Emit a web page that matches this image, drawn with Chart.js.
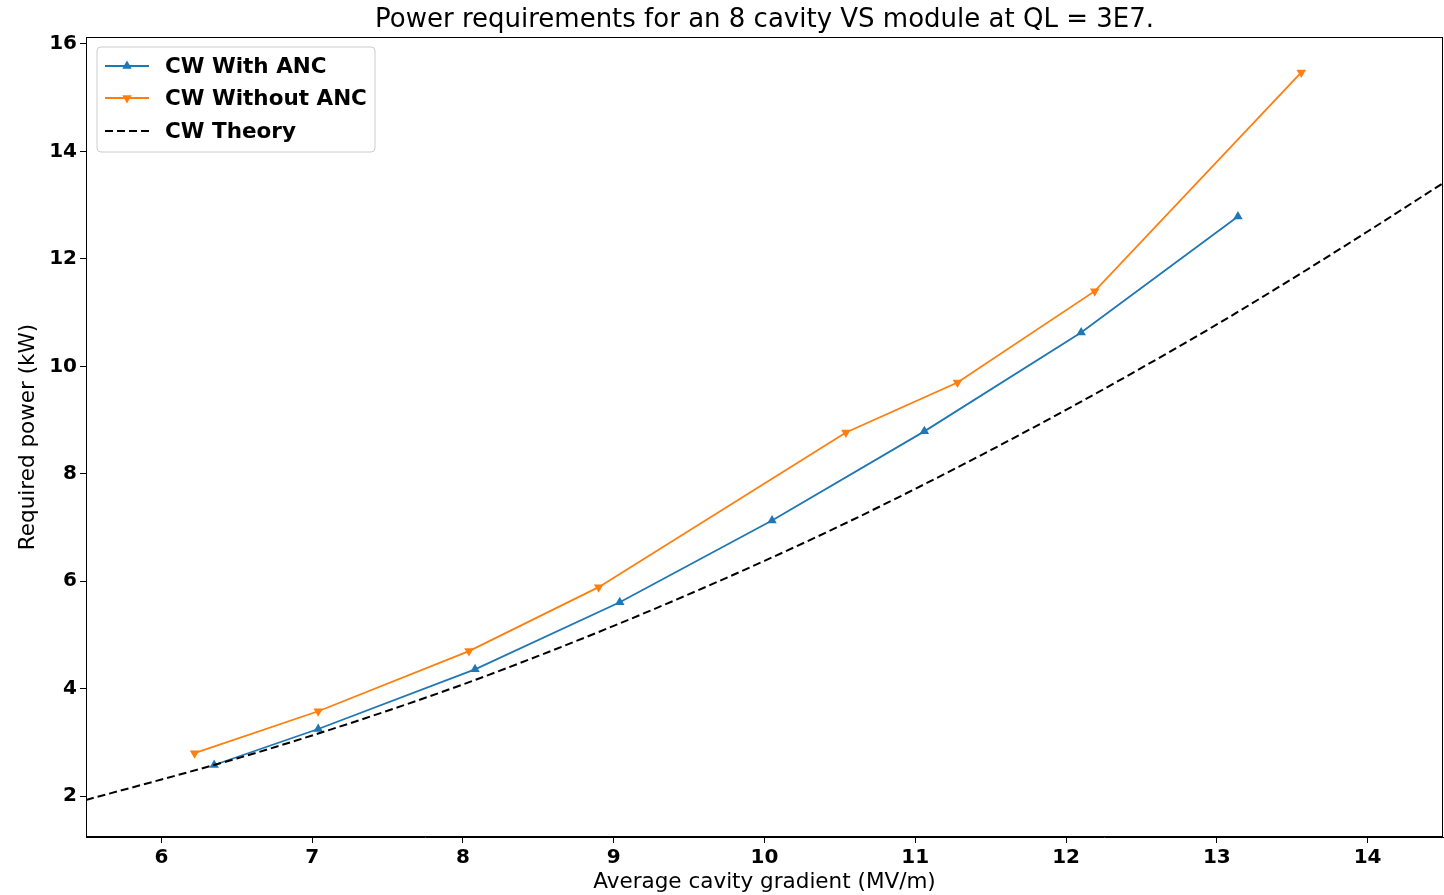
<!DOCTYPE html>
<html>
<head>
<meta charset="utf-8">
<script src="https://cdn.jsdelivr.net/npm/chart.js@4"></script>
<style>
html, body { margin: 0; padding: 0; background: #fff; }
</style>
</head>
<body>
<canvas id="chart1" width="1444" height="895"></canvas>
<script>
// With ANC (blue, triangle up)
var withAncX = [6.35, 7.04, 8.08, 9.04, 10.05, 11.06, 12.10, 13.14];
var withAncY = [2.58, 3.25, 4.36, 5.61, 7.13, 8.79, 10.63, 12.79];
// Without ANC (orange, triangle down)
var withoutAncX = [6.22, 7.04, 8.04, 8.90, 10.54, 11.28, 12.19, 13.56];
var withoutAncY = [2.80, 3.58, 4.70, 5.89, 8.77, 9.70, 11.40, 15.47];
// Theory curve
var theoryX = [5.5, 6, 6.5, 7, 7.5, 8, 8.5, 9, 9.5, 10, 10.5, 11, 11.5, 12, 12.5, 13, 13.5, 14, 14.5];
var theoryY = [1.93, 2.31, 2.70, 3.13, 3.59, 4.08, 4.61, 5.17, 5.76, 6.38, 7.03, 7.72, 8.44, 9.19, 9.97, 10.78, 11.63, 12.51, 13.41];

var xTicks = [6, 7, 8, 9, 10, 11, 12, 13, 14];
var yTicks = [2, 4, 6, 8, 10, 12, 14, 16];

var chartTitle = 'Power requirements for an 8 cavity VS module at QL = 3E7.';
var xLabel = 'Average cavity gradient (MV/m)';
var yLabel = 'Required power (kW)';
var legendLabels = ['CW With ANC', 'CW Without ANC', 'CW Theory'];

var BLUE = '#1f77b4';
var ORANGE = '#ff7f0e';
var FONT = "'DejaVu Sans', sans-serif";

function toPoints(xs, ys) {
    return xs.map(function (x, i) { return { x: x, y: ys[i] }; });
}

var framePlugin = {
    id: 'frame',
    afterDraw: function (chart) {
        var ctx = chart.ctx;
        var a = chart.chartArea;
        ctx.save();
        // box around plot
        ctx.strokeStyle = '#000';
        ctx.lineWidth = 1;
        ctx.strokeRect(a.left + 0.5, a.top + 0.5, a.right - a.left - 1, a.bottom - a.top - 1);

        // title
        ctx.fillStyle = '#000';
        ctx.font = '26px ' + FONT;
        ctx.textAlign = 'center';
        ctx.textBaseline = 'middle';
        ctx.fillText(chartTitle, (a.left + a.right) / 2, 20);

        // legend
        var lx = a.left + 11, ly = a.top + 10, lw = 278, lh = 105, r = 4;
        ctx.beginPath();
        ctx.moveTo(lx + r, ly);
        ctx.arcTo(lx + lw, ly, lx + lw, ly + lh, r);
        ctx.arcTo(lx + lw, ly + lh, lx, ly + lh, r);
        ctx.arcTo(lx, ly + lh, lx, ly, r);
        ctx.arcTo(lx, ly, lx + lw, ly, r);
        ctx.closePath();
        ctx.fillStyle = 'rgba(255,255,255,0.8)';
        ctx.fill();
        ctx.strokeStyle = '#cccccc';
        ctx.stroke();

        var rows = [ly + 19, ly + 51, ly + 84];
        var styles = [
            { color: BLUE, dash: [], marker: 'up' },
            { color: ORANGE, dash: [], marker: 'down' },
            { color: '#000', dash: [8, 4], marker: null }
        ];
        ctx.font = 'bold 21.5px ' + FONT;
        ctx.textAlign = 'left';
        rows.forEach(function (y, i) {
            var s = styles[i];
            ctx.strokeStyle = s.color;
            ctx.lineWidth = 1.8;
            ctx.setLineDash(s.dash);
            ctx.beginPath();
            ctx.moveTo(lx + 8, y);
            ctx.lineTo(lx + 52, y);
            ctx.stroke();
            ctx.setLineDash([]);
            if (s.marker) {
                var cx = lx + 30, rad = 5.5;
                var dir = s.marker === 'up' ? -1 : 1;
                ctx.fillStyle = s.color;
                ctx.beginPath();
                ctx.moveTo(cx, y + dir * rad);
                ctx.lineTo(cx + rad * 0.866, y - dir * rad * 0.5);
                ctx.lineTo(cx - rad * 0.866, y - dir * rad * 0.5);
                ctx.closePath();
                ctx.fill();
            }
            ctx.fillStyle = '#000';
            ctx.fillText(legendLabels[i], lx + 68, y + 1);
        });
        ctx.restore();
    }
};

var chart1 = new Chart(document.getElementById('chart1'), {
    type: 'line',
    data: {
        datasets: [
            {
                label: legendLabels[0],
                data: toPoints(withAncX, withAncY),
                borderColor: BLUE,
                backgroundColor: BLUE,
                borderWidth: 1.8,
                pointStyle: 'triangle',
                pointRadius: 5.5,
                pointBorderWidth: 0,
                order: 2
            },
            {
                label: legendLabels[1],
                data: toPoints(withoutAncX, withoutAncY),
                borderColor: ORANGE,
                backgroundColor: ORANGE,
                borderWidth: 1.8,
                pointStyle: 'triangle',
                pointRotation: 180,
                pointRadius: 5.5,
                pointBorderWidth: 0,
                order: 1
            },
            {
                label: legendLabels[2],
                data: toPoints(theoryX, theoryY),
                borderColor: '#000',
                borderWidth: 2,
                borderDash: [8, 4],
                pointRadius: 0,
                cubicInterpolationMode: 'monotone',
                order: 0
            }
        ]
    },
    options: {
        responsive: false,
        animation: false,
        devicePixelRatio: 1,
        layout: { autoPadding: false, padding: { top: 37, right: 1, bottom: 0, left: 0 } },
        plugins: {
            legend: { display: false },
            tooltip: { enabled: false },
            title: { display: false }
        },
        scales: {
            x: {
                type: 'linear',
                min: 5.5,
                max: 14.5,
                afterBuildTicks: function (scale) {
                    scale.ticks = xTicks.map(function (v) { return { value: v }; });
                },
                afterFit: function (scale) {
                    scale.height = 58;
                    scale.paddingLeft = 0;
                    scale.paddingRight = 0;
                },
                grid: { display: true, drawOnChartArea: false, drawTicks: true, tickLength: 6, color: '#000' },
                border: { display: true, color: '#000' },
                ticks: {
                    color: '#000',
                    font: { family: FONT, size: 20, weight: 'bold' },
                    padding: 3,
                    maxRotation: 0,
                    autoSkip: false
                },
                title: {
                    display: true,
                    text: xLabel,
                    color: '#000',
                    font: { family: FONT, size: 21.5 },
                    padding: { top: 0, bottom: 0 }
                }
            },
            y: {
                type: 'linear',
                min: 1.24,
                max: 16.13,
                afterBuildTicks: function (scale) {
                    scale.ticks = yTicks.map(function (v) { return { value: v }; });
                },
                afterFit: function (scale) {
                    scale.width = 86;
                    scale.paddingTop = 0;
                    scale.paddingBottom = 0;
                },
                grid: { display: true, drawOnChartArea: false, drawTicks: true, tickLength: 6, color: '#000' },
                border: { display: true, color: '#000' },
                ticks: {
                    color: '#000',
                    font: { family: FONT, size: 20, weight: 'bold' },
                    padding: 3,
                    autoSkip: false
                },
                title: {
                    display: true,
                    text: yLabel,
                    color: '#000',
                    font: { family: FONT, size: 21.5 },
                    padding: { top: 16, bottom: 0 }
                }
            }
        }
    },
    plugins: [framePlugin]
});
</script>
</body>
</html>
